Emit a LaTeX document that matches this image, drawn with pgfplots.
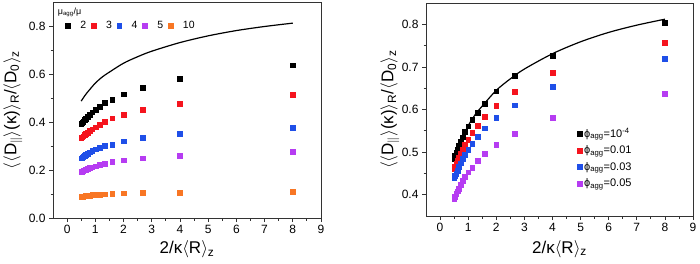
\documentclass[border=0pt]{standalone}
\usepackage{pgfplots}
\pgfplotsset{compat=1.18}
\usepackage{fontspec}
\setmainfont{Liberation Sans}
\definecolor{cred}{HTML}{F5141E}
\definecolor{cblue}{HTML}{1F4FE8}
\definecolor{cpurp}{HTML}{B63CF2}
\definecolor{corng}{HTML}{F87624}
\definecolor{frame}{HTML}{333333}
\begin{document}
\begin{tikzpicture}
\path[use as bounding box] (0pt,0pt) rectangle (700pt,263pt);
\pgfplotsset{
  myax/.style={
    scale only axis,
    anchor=south west,
    xmin=-0.5, xmax=9,
    xtick={0,1,...,9},
    minor x tick num=1,
    minor y tick num=1,
    tick align=outside,
    xtick pos=left, ytick pos=left,
    major tick length=4pt, minor tick length=2.5pt,
    axis line style={frame, line width=0.9pt},
    every tick/.style={frame, line width=0.8pt},
    tick label style={font=\fontsize{12}{14}\selectfont},
    /pgf/number format/assume math mode=true,
    label style={font=\fontsize{17}{20}\selectfont},
    every axis plot/.append style={only marks, mark=square*, mark size=2.4pt},
  }
}
% ---------------- left panel
\begin{axis}[myax, at={(53pt,45pt)}, width=268pt, height=216pt,
  ymin=0, ymax=0.9, ytick={0,0.2,...,0.8},
  yticklabel style={/pgf/number format/.cd, fixed, fixed zerofill, precision=1},
  xlabel={2/κ$\langle$R$\rangle$\textsubscript{z}},
  ylabel={$\langle\langle$D$_{\parallel}\rangle$(κ)$\rangle$\textsubscript{R}/$\langle$D\textsubscript{0}$\rangle$\textsubscript{z}},
  xlabel style={at={(axis description cs:0.5,-0.145)}, anchor=center},
  ylabel style={at={(axis description cs:-0.150,0.5)}, anchor=center},
  legend columns=5,
  legend style={draw=none, fill=none, at={(axis description cs:0.035,0.889)}, anchor=west,
    font=\fontsize{10.5}{12}\selectfont, nodes={inner xsep=2pt},
    /tikz/every even column/.append style={column sep=3pt},
    /tikz/every odd column/.append style={column sep=8pt}},
  legend cell align=left,
]
\addplot[black, mark options={fill=black}] coordinates {
(8,0.637)(4,0.582)(2.6667,0.544)(2,0.516)(1.6,0.494)(1.3333,0.479)(1.1429,0.463)(1,0.451)
(0.8889,0.441)(0.8,0.431)(0.7273,0.423)(0.6667,0.415)(0.6154,0.408)(0.5714,0.402)(0.5333,0.397)(0.5,0.392)};
\addlegendentry{2}
\addplot[cred, mark options={fill=cred}] coordinates {
(8,0.515)(4,0.476)(2.6667,0.452)(2,0.430)(1.6,0.416)(1.3333,0.401)(1.1429,0.388)(1,0.378)
(0.8889,0.370)(0.8,0.363)(0.7273,0.357)(0.6667,0.351)(0.6154,0.346)(0.5714,0.341)(0.5333,0.337)(0.5,0.334)};
\addlegendentry{3}
\addplot[cblue, mark options={fill=cblue}] coordinates {
(8,0.376)(4,0.351)(2.6667,0.334)(2,0.320)(1.6,0.307)(1.3333,0.301)(1.1429,0.293)(1,0.287)
(0.8889,0.280)(0.8,0.274)(0.7273,0.269)(0.6667,0.264)(0.6154,0.259)(0.5714,0.255)(0.5333,0.252)(0.5,0.249)};
\addlegendentry{4}
\addplot[cpurp, mark options={fill=cpurp}] coordinates {
(8,0.275)(4,0.260)(2.6667,0.249)(2,0.241)(1.6,0.234)(1.3333,0.227)(1.1429,0.221)(1,0.216)
(0.8889,0.212)(0.8,0.208)(0.7273,0.205)(0.6667,0.201)(0.6154,0.199)(0.5714,0.196)(0.5333,0.194)(0.5,0.192)};
\addlegendentry{5}
\addplot[corng, mark options={fill=corng}] coordinates {
(8,0.111)(4,0.107)(2.6667,0.104)(2,0.103)(1.6,0.102)(1.3333,0.099)(1.1429,0.098)(1,0.097)
(0.8889,0.0955)(0.8,0.094)(0.7273,0.0927)(0.6667,0.0915)(0.6154,0.0905)(0.5714,0.0895)(0.5333,0.0888)(0.5,0.088)};
\addlegendentry{10}
\addplot[black, no marks, only marks=false, line width=1.2pt, smooth, forget plot] coordinates {
(0.5,0.487)(0.6,0.505)(0.7,0.521)(0.8,0.535)(1.0,0.562)(1.25,0.588)(1.5,0.608)(2,0.645)
(2.5,0.672)(3,0.695)(4,0.731)(5,0.759)(6,0.781)(7,0.798)(8,0.812)};
\node[anchor=north west, font=\fontsize{9}{10}\selectfont, inner sep=1pt] at (rel axis cs:0.014,0.978) {μ\textsubscript{agg}/μ};
\end{axis}
% ---------------- right panel
\begin{axis}[myax, at={(426pt,47pt)}, width=267pt, height=213pt,
  ymin=0.35, ymax=0.85, ytick={0.4,0.5,...,0.8},
  yticklabel style={/pgf/number format/.cd, fixed, fixed zerofill, precision=1},
  xlabel={2/κ$\langle$R$\rangle$\textsubscript{z}},
  ylabel={$\langle\langle$D$_{\parallel}\rangle$(κ)$\rangle$\textsubscript{R}/$\langle$D\textsubscript{0}$\rangle$\textsubscript{z}},
  xlabel style={at={(axis description cs:0.5,-0.155)}, anchor=center},
  ylabel style={at={(axis description cs:-0.135,0.5)}, anchor=center},
  legend style={draw=none, fill=none, at={(axis description cs:0.555,0.272)}, anchor=west,
    font=\fontsize{11}{12}\selectfont, row sep=3pt, nodes={inner xsep=2pt},
    /tikz/every even column/.append style={column sep=6pt}},
  legend cell align=left,
]
\addplot[black, mark options={fill=black}] coordinates {
(8,0.803)(4,0.726)(2.6667,0.679)(2,0.643)(1.6,0.614)(1.3333,0.593)(1.1429,0.576)(1,0.561)
(0.8889,0.548)(0.8,0.535)(0.7273,0.525)(0.6667,0.515)(0.6154,0.506)(0.5714,0.498)(0.5333,0.491)(0.5,0.485)};
\addlegendentry{ϕ\textsubscript{agg}=10\textsuperscript{-4}}
\addplot[cred, mark options={fill=cred}] coordinates {
(8,0.756)(4,0.686)(2.6667,0.641)(2,0.608)(1.6,0.583)(1.3333,0.562)(1.1429,0.545)(1,0.530)
(0.8889,0.518)(0.8,0.507)(0.7273,0.497)(0.6667,0.487)(0.6154,0.479)(0.5714,0.472)(0.5333,0.465)(0.5,0.460)};
\addlegendentry{ϕ\textsubscript{agg}=0.01}
\addplot[cblue, mark options={fill=cblue}] coordinates {
(8,0.719)(4,0.653)(2.6667,0.610)(2,0.580)(1.6,0.556)(1.3333,0.536)(1.1429,0.519)(1,0.506)
(0.8889,0.494)(0.8,0.484)(0.7273,0.474)(0.6667,0.465)(0.6154,0.457)(0.5714,0.450)(0.5333,0.444)(0.5,0.439)};
\addlegendentry{ϕ\textsubscript{agg}=0.03}
\addplot[cpurp, mark options={fill=cpurp}] coordinates {
(8,0.637)(4,0.581)(2.6667,0.544)(2,0.518)(1.6,0.496)(1.3333,0.479)(1.1429,0.464)(1,0.453)
(0.8889,0.442)(0.8,0.432)(0.7273,0.423)(0.6667,0.415)(0.6154,0.408)(0.5714,0.402)(0.5333,0.396)(0.5,0.391)};
\addlegendentry{ϕ\textsubscript{agg}=0.05}
\addplot[black, no marks, only marks=false, line width=1.2pt, smooth, forget plot] coordinates {
(0.5,0.487)(0.6,0.505)(0.7,0.521)(0.8,0.535)(1.0,0.562)(1.25,0.588)(1.5,0.608)(2,0.645)
(2.5,0.672)(3,0.695)(4,0.731)(5,0.759)(6,0.781)(7,0.798)(8,0.812)};
\end{axis}
\end{tikzpicture}
\end{document}
